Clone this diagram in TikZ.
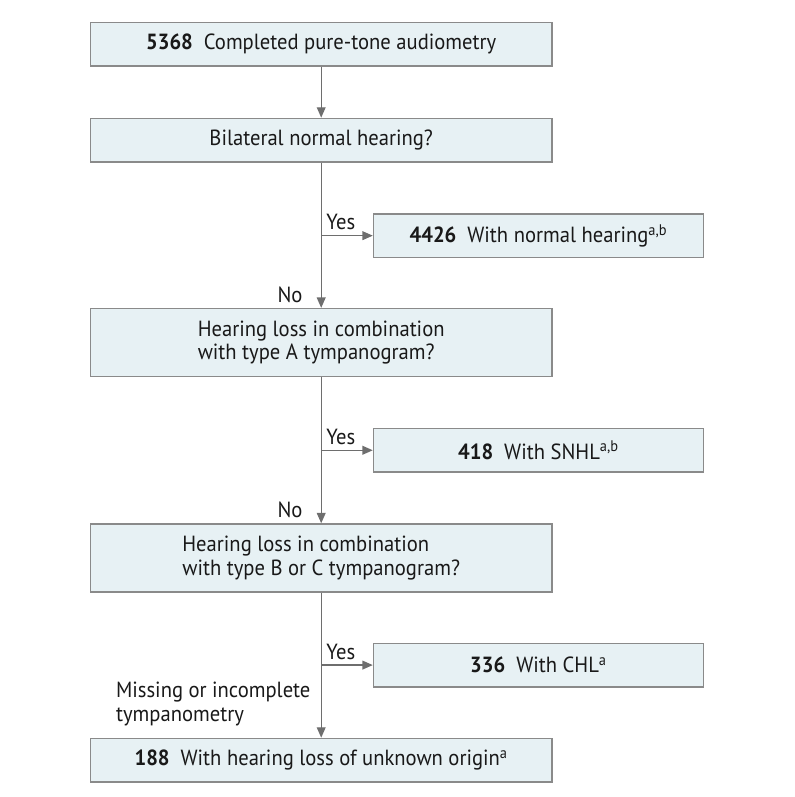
\documentclass[tikz,border=0pt]{standalone}
\usepackage{fontspec}
\setmainfont{PT Sans}[FakeStretch=0.94]
\usetikzlibrary{arrows.meta,positioning}
\usepackage{xcolor}
\definecolor{boxfill}{RGB}{231,241,244}
\definecolor{boxline}{RGB}{138,138,138}
\definecolor{flowline}{RGB}{110,110,110}

\begin{document}
\begin{tikzpicture}[
            node distance=1.27cm,
            every node/.style={font=\fontsize{15.6}{17}\selectfont, text=black!90},
            mainbox/.style={draw=boxline, line width=1pt, fill=boxfill, rectangle, minimum width=11.54cm, minimum height=1.09cm, align=center},
            tallbox/.style={mainbox, minimum height=1.7cm, align=left},
            sidebox/.style={draw=boxline, line width=1pt, fill=boxfill, rectangle, minimum width=8.25cm, minimum height=1.09cm},
            flow/.style={draw=flowline, line width=0.9pt, -{Triangle[length=0.26cm, width=0.22cm]}},
            lbl/.style={inner sep=1.5pt}
        ]
            \useasboundingbox (0,0) rectangle (19.85,-19.925);

            \node[mainbox] (start) at (8.03,-1.109) {\textbf{5368}\enspace Completed pure-tone audiometry};
            \node[mainbox, below=of start] (normal) {Bilateral normal hearing?};
            \coordinate[below=1.825cm of normal] (j1);
            \node[sidebox, right=1.29cm of j1] (nh) {\textbf{4426}\enspace With normal hearing\textsuperscript{a,b}};
            \node[tallbox, below=3.63cm of normal] (typeA) {Hearing loss in combination\\with type A tympanogram?};
            \coordinate[below=1.825cm of typeA] (j2);
            \node[sidebox, right=1.29cm of j2] (snhl) {\textbf{418}\enspace With SNHL\textsuperscript{a,b}};
            \node[tallbox, below=3.65cm of typeA] (typeBC) {Hearing loss in combination\\with type B or C tympanogram?};
            \coordinate[below=1.81cm of typeBC] (j3);
            \node[sidebox, right=1.29cm of j3] (chl) {\textbf{336}\enspace With CHL\textsuperscript{a}};
            \node[mainbox, below=3.625cm of typeBC] (unknown) {\textbf{188}\enspace With hearing loss of unknown origin\textsuperscript{a}};

            \draw[flow] (start) -- (normal);
            \draw[flow] (normal) -- node[lbl, left=0.4cm, pos=0.91] {No} (typeA);
            \draw[flow] (j1) -- node[lbl, above=2pt, pos=0.38] {Yes} (nh);
            \draw[flow] (typeA) -- node[lbl, left=0.4cm, pos=0.91] {No} (typeBC);
            \draw[flow] (j2) -- node[lbl, above=2pt, pos=0.38] {Yes} (snhl);
            \draw[flow] (typeBC) -- node[lbl, left=0.2cm, pos=0.77, align=left] {Missing or incomplete\\tympanometry} (unknown);
            \draw[flow] (j3) -- node[lbl, above=2pt, pos=0.38] {Yes} (chl);
        \end{tikzpicture}
\end{document}
